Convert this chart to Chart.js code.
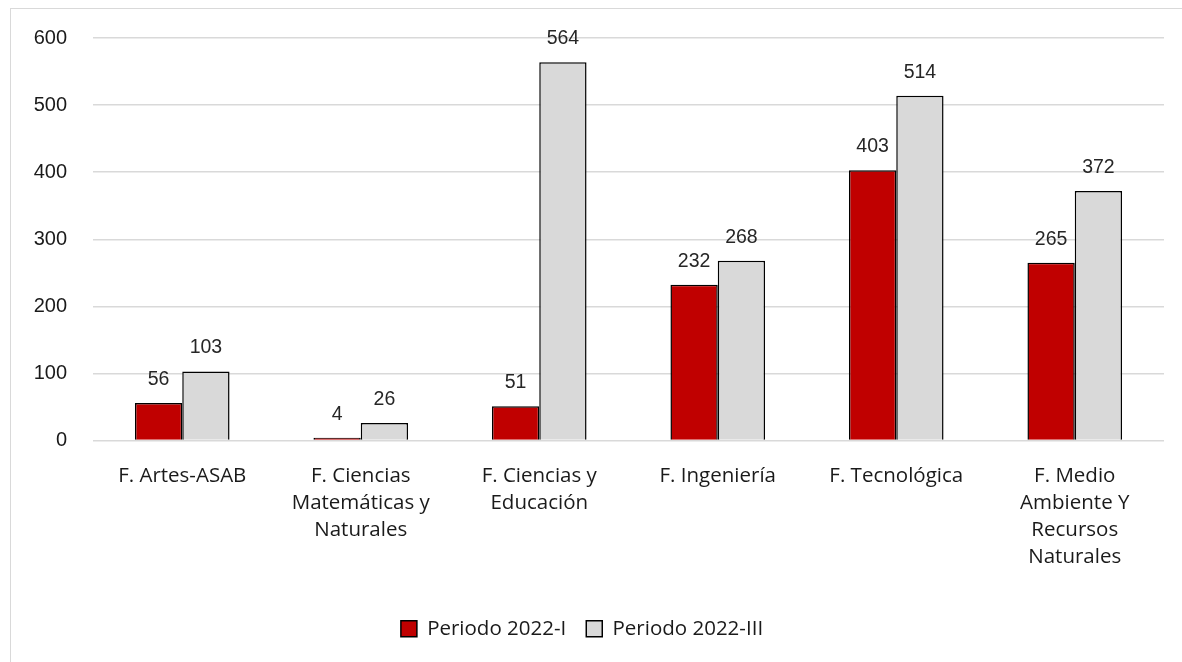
<!DOCTYPE html>
<html>
<head>
<meta charset="utf-8">
<script src="https://cdn.jsdelivr.net/npm/chart.js@4"></script>
<style>
    html, body { margin: 0; padding: 0; background: #fff; }
    #wrap { position: relative; width: 1182px; height: 662px; overflow: hidden; }
    #frame {
        position: absolute; left: 10px; top: 8px; width: 1200px; height: 700px;
        border: 1px solid #d9d9d9; pointer-events: none;
    }
    canvas { position: absolute; left: 0; top: 0; }
</style>
</head>
<body>
<div id="wrap">
    <canvas id="chart" width="1182" height="662"></canvas>
    <div id="frame"></div>
</div>
<script>
// Categories (faculties), multi-line labels
const categories = [
    ['F. Artes-ASAB'],
    ['F. Ciencias', 'Matemáticas y', 'Naturales'],
    ['F. Ciencias y', 'Educación'],
    ['F. Ingeniería'],
    ['F. Tecnológica'],
    ['F. Medio', 'Ambiente Y', 'Recursos', 'Naturales']
];

// Series values
const periodo2022I = [56, 4, 51, 232, 403, 265];
const periodo2022III = [103, 26, 564, 268, 514, 372];

// Y axis ticks
const yTicks = [0, 100, 200, 300, 400, 500, 600];

const labelFont = "'Open Sans', sans-serif";
const numberFont = "'Liberation Sans', Arial, sans-serif";

// Draw value labels above each bar
const valueLabels = {
    id: 'valueLabels',
    afterDatasetsDraw(chart) {
        const ctx = chart.ctx;
        ctx.save();
        ctx.font = '19.5px ' + numberFont;
        ctx.fillStyle = '#262626';
        ctx.textAlign = 'center';
        ctx.textBaseline = 'alphabetic';
        chart.data.datasets.forEach((ds, i) => {
            const meta = chart.getDatasetMeta(i);
            meta.data.forEach((bar, j) => {
                ctx.fillText(ds.data[j], bar.x, bar.y - 18);
            });
        });
        ctx.restore();
    }
};

new Chart(document.getElementById('chart'), {
    type: 'bar',
    data: {
        labels: categories,
        datasets: [{
            label: 'Periodo 2022-I',
            data: periodo2022I,
            backgroundColor: '#c00000',
            borderColor: '#000000',
            borderWidth: 1.5,
            categoryPercentage: 0.53,
            barPercentage: 1
        }, {
            label: 'Periodo 2022-III',
            data: periodo2022III,
            backgroundColor: '#d9d9d9',
            borderColor: '#000000',
            borderWidth: 1.5,
            categoryPercentage: 0.53,
            barPercentage: 1
        }]
    },
    options: {
        responsive: false,
        animation: false,
        layout: {
            padding: { top: 38, right: 18, bottom: 13, left: 0 }
        },
        plugins: {
            legend: {
                position: 'bottom',
                labels: {
                    font: { family: labelFont, size: 20.5 },
                    color: '#1a1a1a',
                    boxWidth: 16,
                    boxHeight: 16,
                    padding: 20,
                    useBorderRadius: false
                }
            },
            tooltip: { enabled: false }
        },
        scales: {
            x: {
                grid: { display: false },
                border: { display: false },
                ticks: {
                    font: { family: labelFont, size: 20.5, lineHeight: 1.32 },
                    color: '#1a1a1a',
                    maxRotation: 0,
                    autoSkip: false,
                    padding: 14
                },
                afterFit(scale) { scale.height = 158; }
            },
            y: {
                min: 0,
                max: 600,
                afterBuildTicks(scale) {
                    scale.ticks = yTicks.map(v => ({ value: v }));
                },
                grid: { color: '#d9d9d9', lineWidth: 1.5, drawTicks: false },
                border: { display: false },
                ticks: {
                    font: { family: numberFont, size: 20 },
                    color: '#1a1a1a',
                    padding: 26
                },
                afterFit(scale) { scale.width = 93; }
            }
        }
    },
    plugins: [valueLabels]
});
</script>
</body>
</html>
